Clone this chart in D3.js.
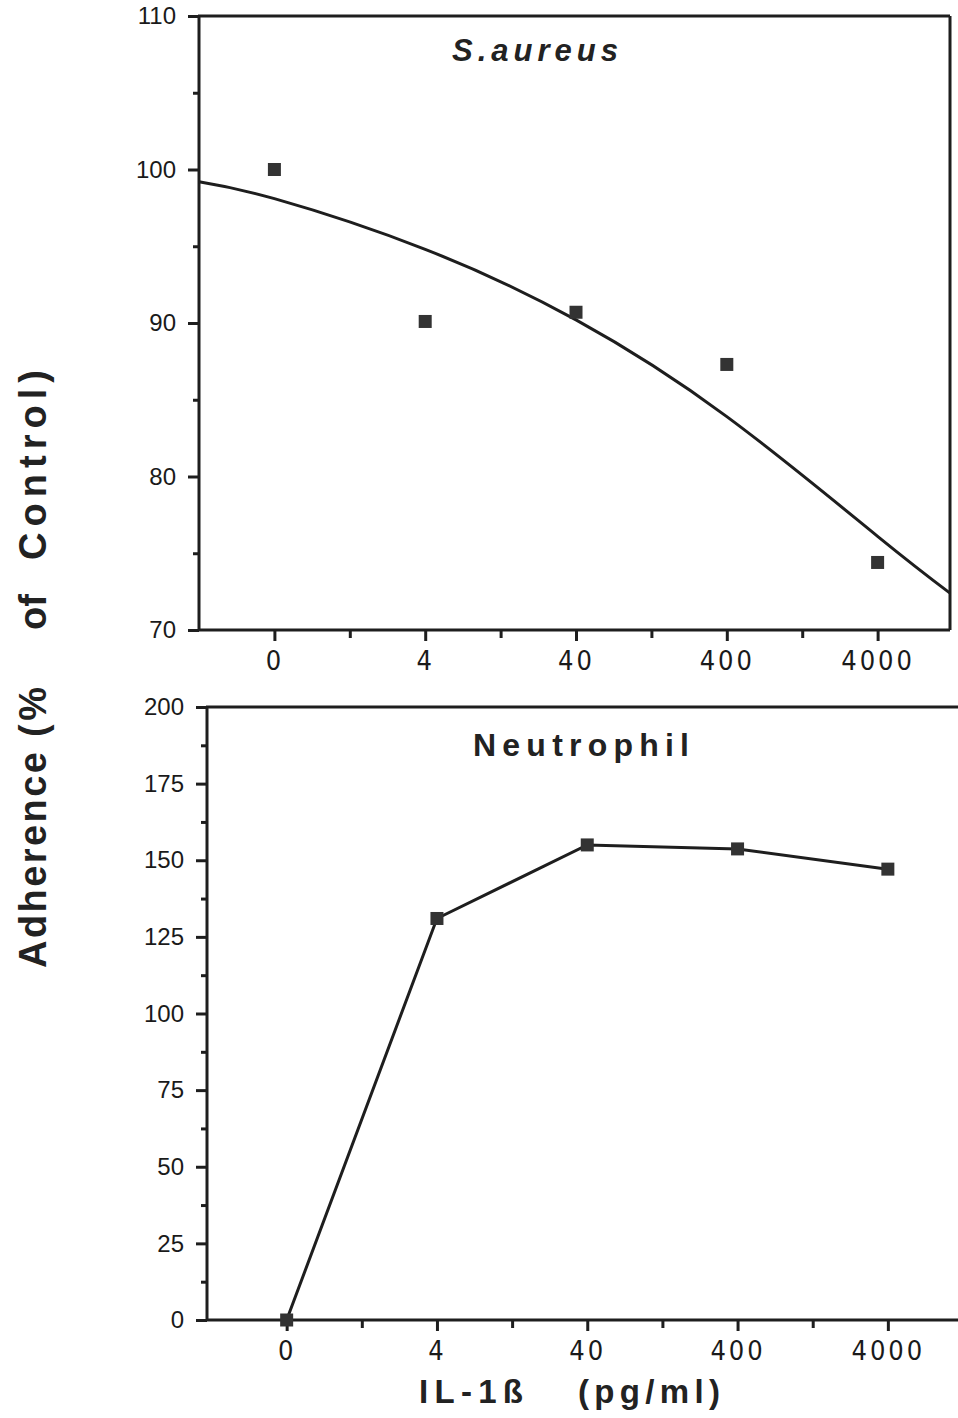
<!DOCTYPE html>
<html><head><meta charset="utf-8">
<script src="https://cdn.jsdelivr.net/npm/d3@7"></script>
<style>
html,body{margin:0;padding:0;background:#fff;}
svg{display:block;}
.num{font-family:"Liberation Sans",Arial,sans-serif;font-size:24px;fill:#1a1a1a;}
.xnum{font-family:"Liberation Sans Narrow","DejaVu Sans Condensed","Liberation Sans",sans-serif;font-size:27px;fill:#1a1a1a;letter-spacing:3px;}
.bold{font-family:"Liberation Sans",Arial,sans-serif;font-weight:bold;fill:#222;}
</style>
</head><body>
<svg id="c" width="958" height="1418"></svg>
<script>
// ---- data ----
const categories = ["0", "4", "40", "400", "4000"];
const saureusValues = [100, 90.1, 90.7, 87.3, 74.4];
const saureusFitPos = [-0.5, 0, 1, 2, 3, 4, 4.48];
const saureusFitValues = [99.2, 98.1, 94.8, 90.2, 83.9, 76.1, 72.4];
const neutrophilValues = [0, 131, 155, 153.7, 147.1];
const topYTicks = [70, 80, 90, 100, 110];
const topYMinor = [75, 85, 95, 105];
const botYTicks = [0, 25, 50, 75, 100, 125, 150, 175, 200];
const botYMinor = [12.5, 37.5, 62.5, 87.5, 112.5, 137.5, 162.5, 187.5];
const xMinor = [0.5, 1.5, 2.5, 3.5];

const svg = d3.select("#c");
const ink = "#1e1e1e";
const sw = 3;

function panel(cfg) {
  const g = svg.append("g");
  const x = d3.scaleLinear().domain(cfg.xDomain).range(cfg.xRange);
  const y = d3.scaleLinear().domain(cfg.yDomain).range(cfg.yRange);
  const [x0, x1] = cfg.xRange, [yb, yt] = cfg.yRange;

  g.append("line").attr("x1", x0).attr("x2", x0).attr("y1", yb).attr("y2", yt);
  g.append("line").attr("x1", x0 - 1).attr("x2", x1).attr("y1", yt).attr("y2", yt);
  g.append("line").attr("x1", x0).attr("x2", x1).attr("y1", yb).attr("y2", yb);
  if (cfg.rightBorder) g.append("line").attr("x1", x1).attr("x2", x1).attr("y1", yt).attr("y2", yb);
  g.selectAll("line").attr("stroke", ink).attr("stroke-width", sw);

  const yAx = d3.axisLeft(y).tickValues(cfg.yTicks).tickSize(11).tickPadding(12).tickFormat(d3.format("d"));
  const ya = g.append("g").attr("transform", `translate(${x0},0)`).call(yAx);
  ya.select(".domain").remove();
  ya.selectAll(".tick line").attr("stroke", ink).attr("stroke-width", sw);
  ya.selectAll(".tick text").attr("class", "num").attr("font-size", null).attr("font-family", null);
  const yAxm = d3.axisLeft(y).tickValues(cfg.yMinor).tickSize(6).tickFormat("");
  const ym = g.append("g").attr("transform", `translate(${x0},0)`).call(yAxm);
  ym.select(".domain").remove();
  ym.selectAll(".tick line").attr("stroke", ink).attr("stroke-width", sw);

  const xAx = d3.axisBottom(x).tickValues(d3.range(categories.length)).tickSize(11).tickPadding(10)
    .tickFormat(i => categories[i]);
  const xa = g.append("g").attr("transform", `translate(0,${yb})`).call(xAx);
  xa.select(".domain").remove();
  xa.selectAll(".tick line").attr("stroke", ink).attr("stroke-width", sw);
  xa.selectAll(".tick text").attr("class", "xnum").attr("font-size", null).attr("font-family", null);
  const xAxm = d3.axisBottom(x).tickValues(xMinor).tickSize(8).tickFormat("");
  const xm = g.append("g").attr("transform", `translate(0,${yb})`).call(xAxm);
  xm.select(".domain").remove();
  xm.selectAll(".tick line").attr("stroke", ink).attr("stroke-width", sw);

  return {g, x, y};
}

// ---- top panel ----
const P1 = panel({
  xDomain: [-0.5, 4.48], xRange: [199, 950],
  yDomain: [70, 110], yRange: [630, 16],
  yTicks: topYTicks, yMinor: topYMinor, rightBorder: true
});
P1.g.append("path")
  .datum(saureusFitPos.map((p, i) => [p, saureusFitValues[i]]))
  .attr("fill", "none").attr("stroke", ink).attr("stroke-width", sw)
  .attr("d", d3.line().x(d => P1.x(d[0])).y(d => P1.y(d[1])).curve(d3.curveNatural));
P1.g.selectAll("rect.pt").data(saureusValues).enter().append("rect")
  .attr("x", (d, i) => P1.x(i) - 6.5).attr("y", d => P1.y(d) - 6.5)
  .attr("width", 13).attr("height", 13).attr("fill", "#333");
P1.g.append("text").attr("class", "bold").attr("x", 535).attr("y", 61)
  .attr("text-anchor", "middle").attr("font-size", 31).attr("font-style", "italic")
  .attr("textLength", 166).attr("lengthAdjust", "spacing").text("S.aureus");

// ---- bottom panel ----
const P2 = panel({
  xDomain: [-0.53, 4.48], xRange: [207, 960],
  yDomain: [0, 200], yRange: [1320, 707],
  yTicks: botYTicks, yMinor: botYMinor, rightBorder: false
});
P2.g.append("path")
  .datum(neutrophilValues)
  .attr("fill", "none").attr("stroke", ink).attr("stroke-width", sw)
  .attr("d", d3.line().x((d, i) => P2.x(i)).y(d => P2.y(d)));
P2.g.selectAll("rect.pt").data(neutrophilValues).enter().append("rect")
  .attr("x", (d, i) => P2.x(i) - 6.5).attr("y", d => P2.y(d) - 6.5)
  .attr("width", 13).attr("height", 13).attr("fill", "#333");
P2.g.append("text").attr("class", "bold").attr("x", 581).attr("y", 756)
  .attr("text-anchor", "middle").attr("font-size", 32)
  .attr("textLength", 216).attr("lengthAdjust", "spacing").text("Neutrophil");

// ---- axis titles ----
const yTitleWords = [["Adherence", 968, 216], ["(%", 737, 50], ["of", 630, 36], ["Control)", 560, 190]];
const yt = svg.append("text").attr("class", "bold")
  .attr("transform", "translate(46,0) rotate(-90)").attr("font-size", 38);
yTitleWords.forEach(([w, pos, len]) => {
  yt.append("tspan").attr("x", -pos).attr("y", 0)
    .attr("textLength", len).attr("lengthAdjust", "spacing").text(w);
});
const xTitleWords = [["IL-1ß", 419, 104], ["(pg/ml)", 578, 142]];
const xt = svg.append("text").attr("class", "bold").attr("font-size", 33);
xTitleWords.forEach(([w, pos, len]) => {
  xt.append("tspan").attr("x", pos).attr("y", 1403)
    .attr("textLength", len).attr("lengthAdjust", "spacing").text(w);
});
</script>
</body></html>
